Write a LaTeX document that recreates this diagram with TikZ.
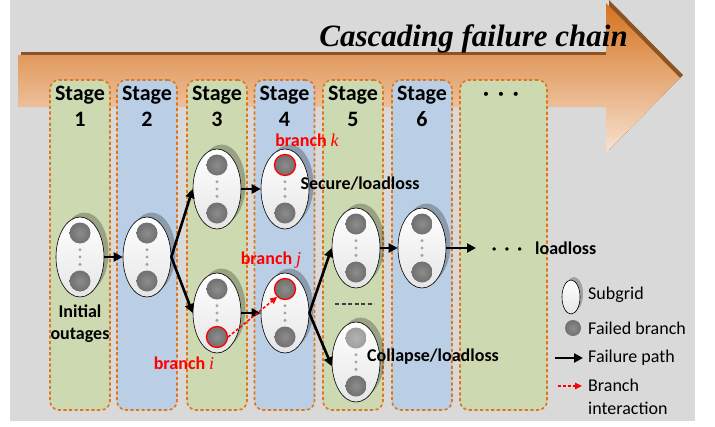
\documentclass[tikz,border=0pt]{standalone}
\usepackage{fontspec}
\setmainfont{Carlito}
\newfontfamily\titlefont{Liberation Serif}
\usetikzlibrary{shapes.geometric,arrows.meta}
\definecolor{bggray}{HTML}{D9D9D9}
\definecolor{colgreen}{HTML}{CDD9B0}
\definecolor{colblue}{HTML}{BACFE5}
\definecolor{dashorange}{HTML}{E0761C}
\definecolor{arrtop}{HTML}{D5721E}
\definecolor{arrbot}{HTML}{F7E2D2}
\definecolor{arrshadow}{HTML}{8C5424}
\definecolor{fbgray}{HTML}{707070}
\definecolor{dotgray}{HTML}{A5A5A5}
\newcommand\subgrid[5]{%
  \node[sshadow] at (#2+4.5,#3-4.5) {};
  \node[subg] (#1) at (#2,#3) {};
  \node[fb,#4] (#1t) at (#2,#3-24) {};
  \node[fb,#5] (#1b) at (#2,#3+24) {};
  \foreach \dy in {-7.3,0,7.3} \fill[dotgray] (#2,#3+\dy) circle (1.7pt);
}
\begin{document}
\begin{tikzpicture}[x=1pt,y=-1pt,
  col/.style={draw=dashorange, line width=1.6pt, dash pattern=on 3.2pt off 2.4pt,
    rounded corners=9pt, minimum width=60pt, minimum height=330pt, inner sep=0},
  subg/.style={ellipse, draw=black, line width=0.6pt, minimum width=48pt,
    minimum height=80pt, inner sep=0, top color=white, bottom color=black!10},
  sshadow/.style={ellipse, fill=black, opacity=0.25, minimum width=48pt,
    minimum height=80pt, inner sep=0},
  fb/.style={circle, inner sep=0, minimum size=21pt, inner color=fbgray!80!white, outer color=fbgray},
  redc/.style={draw=red, line width=1.3pt},
  lightc/.style={inner color=black!30, outer color=black!38},
  fail/.style={-{Triangle[length=9pt,width=9pt]}, line width=2.6pt, black},
  interact/.style={-{Triangle[length=7pt,width=6.5pt]}, line width=1.5pt, red,
    dash pattern=on 3pt off 2pt},
  stagef/.style={font=\bfseries\fontsize{22}{26}\selectfont, inner sep=0},
  lab/.style={font=\bfseries\fontsize{18}{22}\selectfont, inner sep=0},
  redlab/.style={lab, text=red},
  leg/.style={font=\fontsize{18}{22}\selectfont, inner sep=0, anchor=base west}
]
\useasboundingbox (0,0) rectangle (715,426);
\fill[white] (0,0) rectangle (715,426);
\fill[bggray] (10,0) rectangle (695,421);

% big arrow
\fill[arrshadow, shift={(3,-3)}] (18,55) -- (606,55) -- (606,3) -- (680,78)
  -- (606,153) -- (606,107) -- (18,107) -- cycle;
\shade[top color=arrtop, bottom color=arrbot] (18,55) -- (606,55) -- (606,3) -- (680,78)
  -- (606,153) -- (606,107) -- (18,107) -- cycle;
\node[font=\titlefont\bfseries\itshape\fontsize{31}{36}\selectfont, anchor=base east, inner sep=0]
  (title) at (628,46) {Cascading failure chain};

% stage columns
\node[col, fill=colgreen] (c1) at (80,245) {};
\node[col, fill=colblue] (c2) at (147,245) {};
\node[col, fill=colgreen] (c3) at (217,245) {};
\node[col, fill=colblue] (c4) at (284.5,245) {};
\node[col, fill=colgreen] (c5) at (353,245) {};
\node[col, fill=colblue] (c6) at (422,245) {};
\node[col, fill=colgreen, minimum width=87pt] (c7) at (503.5,245) {};

\foreach \i/\x in {1/80,2/147,3/217,4/284.5,5/353,6/422}{
  \node[stagef, anchor=base] (st\i) at (\x,100) {Stage};
  \node[stagef, anchor=base] (sn\i) at (\x,126) {\i};
}
\node[stagef, anchor=base] (stdots) at (501,100) {·\hspace{9pt}·\hspace{9pt}·};

% subgrids
\subgrid{ea}{80}{257}{}{}
\subgrid{eb}{147}{257}{}{}
\subgrid{eca}{217}{189}{}{}
\subgrid{ecb}{217}{313}{}{redc}
\subgrid{eda}{285}{189}{redc}{}
\subgrid{edb}{285}{313}{redc}{}
\subgrid{eea}{356}{248}{}{}
\subgrid{eeb}{356}{362}{lightc}{}
\subgrid{ef}{422}{248}{}{}

% separator in stage 5
\draw[line width=1.6pt, black!75, dash pattern=on 4pt off 2.5pt] (335,304) -- (374,304);

% failure paths
\coordinate (dend) at (476,248);
\draw[fail] (ea.east) -- (eb.west);
\draw[fail] (eb.east) -- (eca.west);
\draw[fail] (eb.east) -- (ecb.west);
\draw[fail] (eca.east) -- (eda.west);
\draw[fail] (ecb.east) -- (edb.west);
\draw[fail] (edb.east) -- (eea.west);
\draw[fail] (edb.east) -- (eeb.190);
\draw[fail] (eea.east) -- (ef.west);
\draw[fail] (ef.east) -- (dend);
\draw[interact] (ecbb.east) -- (edbt.south west);

% labels
\node[lab, anchor=base] (dl) at (507,254) {·\hspace{8pt}·\hspace{8pt}·};
\node[lab, anchor=base west] (ll) at (535,254) {loadloss};
\node[lab, anchor=base] (sec) at (360,189) {Secure/loadloss};
\node[lab, anchor=base] (col) at (433,361) {Collapse/loadloss};
\node[lab, anchor=base] (ini1) at (80,317) {Initial};
\node[lab, anchor=base] (ini2) at (80,339) {outages};
\node[redlab, anchor=base] (bk) at (307,146) {branch {\titlefont\mdseries\itshape k}};
\node[redlab, anchor=base] (bj) at (271,264) {branch {\titlefont\mdseries\itshape j}};
\node[redlab, anchor=base] (bi) at (184,369) {branch {\titlefont\mdseries\itshape i}};

% legend
\node[ellipse, fill=black, opacity=0.25, minimum width=18pt, minimum height=34pt, inner sep=0] at (574,294) {};
\node[ellipse, draw=black, line width=0.6pt, minimum width=18pt, minimum height=34pt,
  inner sep=0, top color=white, bottom color=black!10] (lsub) at (571,297) {};
\node[fb, minimum size=16pt] (lfb) at (573,328) {};
\coordinate (lfa) at (555,358); \coordinate (lfb2) at (583,358);
\draw[fail] (lfa) -- (lfb2);
\coordinate (lia) at (558,386); \coordinate (lib) at (582,386);
\draw[interact] (lia) -- (lib);
\node[leg] (t1) at (588,299) {Subgrid};
\node[leg] (t2) at (588,334) {Failed branch};
\node[leg] (t3) at (588,362) {Failure path};
\node[leg] (t4) at (588,391) {Branch};
\node[leg] (t5) at (588,414) {interaction};
\end{tikzpicture}
\end{document}
